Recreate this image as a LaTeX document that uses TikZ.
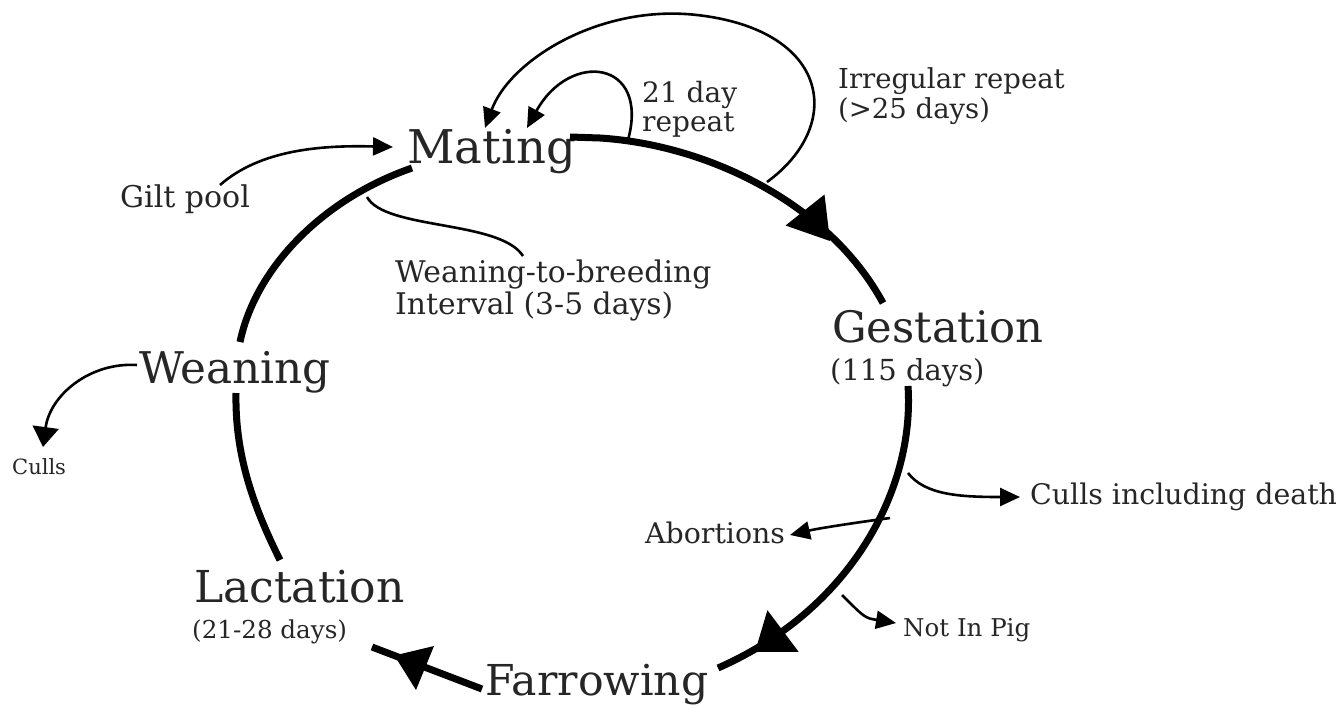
\documentclass[tikz,border=0pt]{standalone}
\usepackage{fontspec}
\setmainfont{DejaVu Serif}
\usetikzlibrary{arrows.meta}
\begin{document}
\begin{tikzpicture}[x=1pt,y=-1pt,
  lbl/.style={anchor=base west,inner sep=0pt,align=left,text=black!85},
  cyc/.style={line width=7pt,line cap=butt},
  thinline/.style={line width=2.6pt},
  arr/.style={thinline,-{Triangle[length=20pt,width=18pt]}},
  bigarr/.style={thinline,-{Triangle[length=20pt,width=26pt]}},
  head/.style={fill=black}]
\useasboundingbox (0,0) rectangle (1339,705);

% text nodes
\node[lbl,font=\fontsize{46.5}{48}\selectfont] (mating) at (407,163) {Mating};
\node[lbl,font=\fontsize{43.3}{45}\selectfont] (gest) at (832,342) {Gestation};
\node[lbl,font=\fontsize{29}{30}\selectfont] (gestdays) at (830,380) {(115 days)};
\node[lbl,font=\fontsize{43.7}{45}\selectfont] (wean) at (139,383) {Weaning};
\node[lbl,font=\fontsize{44}{45}\selectfont] (lact) at (194,602) {Lactation};
\node[lbl,font=\fontsize{24.6}{26}\selectfont] (lactdays) at (192,638) {(21-28 days)};
\node[lbl,font=\fontsize{42.6}{44}\selectfont] (farrow) at (485,695) {Farrowing};
\node[lbl,font=\fontsize{30}{32}\selectfont] (gilt) at (120,207) {Gilt pool};
\node[lbl,font=\fontsize{29.8}{32}\selectfont] (wtb) at (395,314) {Weaning-to-breeding\\Interval (3-5 days)};
\node[lbl,font=\fontsize{28}{29}\selectfont] (rep21) at (642,131) {21 day\\repeat};
\node[lbl,font=\fontsize{27.5}{30}\selectfont] (irreg) at (838,118) {Irregular repeat\\(>25 days)};
\node[lbl,font=\fontsize{21}{22}\selectfont] (culls) at (12,474) {Culls};
\node[lbl,font=\fontsize{28.4}{30}\selectfont] (cid) at (1030,504) {Culls including death};
\node[lbl,font=\fontsize{28.4}{30}\selectfont] (abort) at (645,543) {Abortions};
\node[lbl,font=\fontsize{24.5}{25}\selectfont] (nip) at (903,636) {Not In Pig};

% anchor points of connectors
\coordinate (m0) at (570,137);
\coordinate (m1) at (600,138);
\coordinate (g0) at (883,303);
\coordinate (g1) at (908,386);
\coordinate (f0) at (718,668);
\coordinate (f1) at (482,689);
\coordinate (l0) at (372,647);
\coordinate (l1) at (280,560);
\coordinate (w0) at (236,393);
\coordinate (w1) at (240,342);
\coordinate (m2) at (412,168);
\coordinate (j21) at (628,140);
\coordinate (jir) at (767,182);
\coordinate (top) at (697,15);
\coordinate (tip21) at (527,128);
\coordinate (tipir) at (485,128);
\coordinate (jwb) at (367,197);
\coordinate (ewb) at (523,256);
\coordinate (giltout) at (220,185);
\coordinate (giltin) at (393,147);
\coordinate (weanout) at (137,365);
\coordinate (cullsin) at (43,447);
\coordinate (jcid) at (908,473);
\coordinate (cidin) at (1020,497);
\coordinate (jab) at (890,518);
\coordinate (abin) at (790,535);
\coordinate (jnip) at (842,595);
\coordinate (nipin) at (896,623);

% main cycle
\draw[cyc] (m0) -- (m1) .. controls (710,145) and (830,205) .. (g0);
\fill[head] (830,241) -- (824.5,194.5) -- (785.5,225.5) -- cycle;
\draw[cyc] (g1) .. controls (915,490) and (850,610) .. (f0);
\fill[head] (755,652) -- (798.6,651.8) -- (767.4,610.2) -- cycle;
\draw[cyc] (f1) -- (l0);
\fill[head] (394.4,655.5) -- (434,646) -- (416,690) -- cycle;
\draw[cyc] (l1) .. controls (250,500) and (235,450) .. (w0);
\draw[cyc] (w1) .. controls (255,270) and (320,200) .. (m2);

% repeats
\draw[arr] (j21) .. controls (650,60) and (570,50) .. (tip21);
\draw[arr] (jir) .. controls (845,125) and (830,30) .. (top)
  .. controls (600,4) and (510,60) .. (tipir);

% side branches
\draw[thinline] (jwb) .. controls (385,230) and (500,220) .. (ewb);
\draw[arr] (giltout) .. controls (260,150) and (320,145) .. (giltin);
\draw[bigarr] (weanout) .. controls (90,362) and (50,395) .. (cullsin);
\draw[arr] (jcid) .. controls (925,495) and (960,497) .. (cidin);
\draw[arr] (jab) .. controls (860,522) and (820,528) .. (abin);
\draw[arr] (jnip) .. controls (865,618) .. (nipin);
\end{tikzpicture}
\end{document}
